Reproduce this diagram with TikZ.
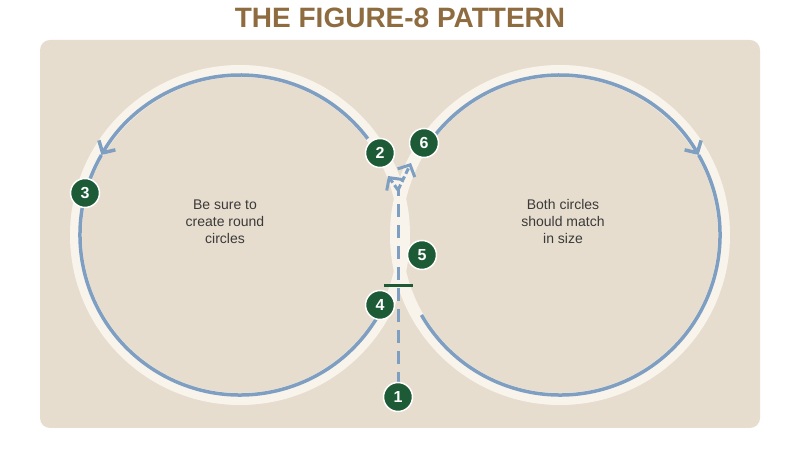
\documentclass[tikz,border=0pt]{standalone}
\usepackage{fontspec}
\setmainfont{Liberation Sans}
\usetikzlibrary{arrows.meta}
\definecolor{panel}{HTML}{E7DDCE}
\definecolor{ring}{HTML}{F8F4EC}
\definecolor{blu}{HTML}{7F9FC2}
\definecolor{grn}{HTML}{1C5B36}
\definecolor{ttl}{HTML}{8E6C40}
\definecolor{txt}{HTML}{3A3A3A}
\tikzset{
  badge/.style={circle,fill=grn,draw=white,line width=1.5pt,minimum size=29pt,inner sep=0pt,text=white,font=\bfseries\fontsize{16}{16}\selectfont},
  bluline/.style={draw=blu,line width=3.5pt},
  tip/.style={-{Straight Barb[length=9pt,width=19pt]}},
  note/.style={align=center,text=txt,font=\fontsize{14}{17}\selectfont}
}
\begin{document}
\begin{tikzpicture}[x=1pt,y=1pt]
\useasboundingbox (0,0) rectangle (800,462);
\fill[white] (0,0) rectangle (800,462);
\node[font=\bfseries\fontsize{28}{28}\selectfont,text=ttl] (title) at (400,444) {THE FIGURE-8 PATTERN};
\fill[panel,rounded corners=10pt] (40,34) rectangle (760,422);
% white rings
\draw[ring,line width=12pt] (240,227) circle (164);
\draw[ring,line width=12pt] (560,227) circle (164);
% left circle
\draw[bluline,tip] (240,227) ++(37:160) arc (37:150:160);
\draw[bluline] (240,227) ++(150:160) arc (150:330:160);
% right circle
\draw[bluline,tip] (560,227) ++(143:160) arc (143:30:160);
\draw[bluline] (560,227) ++(30:160) arc (30:-150:160);
% dashed line
\coordinate (s) at (398,77);
\coordinate (m) at (398,272);
\coordinate (a2) at (388,286);
\coordinate (a6) at (411,299);
\draw[blu,line width=3pt,dash pattern=on 13pt off 8pt] (s) -- (m);
\draw[blu,line width=3pt,tip,dash pattern=on 6pt off 3pt] (m) -- (a2);
\draw[blu,line width=3pt,tip,dash pattern=on 6pt off 3pt] (m) -- (a6);
\draw[grn,line width=3pt] (384,176) -- (413,176);
% badges
\node[badge] (n1) at (398,65) {1};
\node[badge] (n2) at (380,309) {2};
\node[badge] (n3) at (85,269) {3};
\node[badge] (n4) at (380,157) {4};
\node[badge] (n5) at (422,207) {5};
\node[badge] (n6) at (424,319) {6};
% notes
\node[note] (t1) at (225,240) {Be sure to\\create round\\circles};
\node[note] (t2) at (563,240) {Both circles\\should match\\in size};
\end{tikzpicture}
\end{document}
